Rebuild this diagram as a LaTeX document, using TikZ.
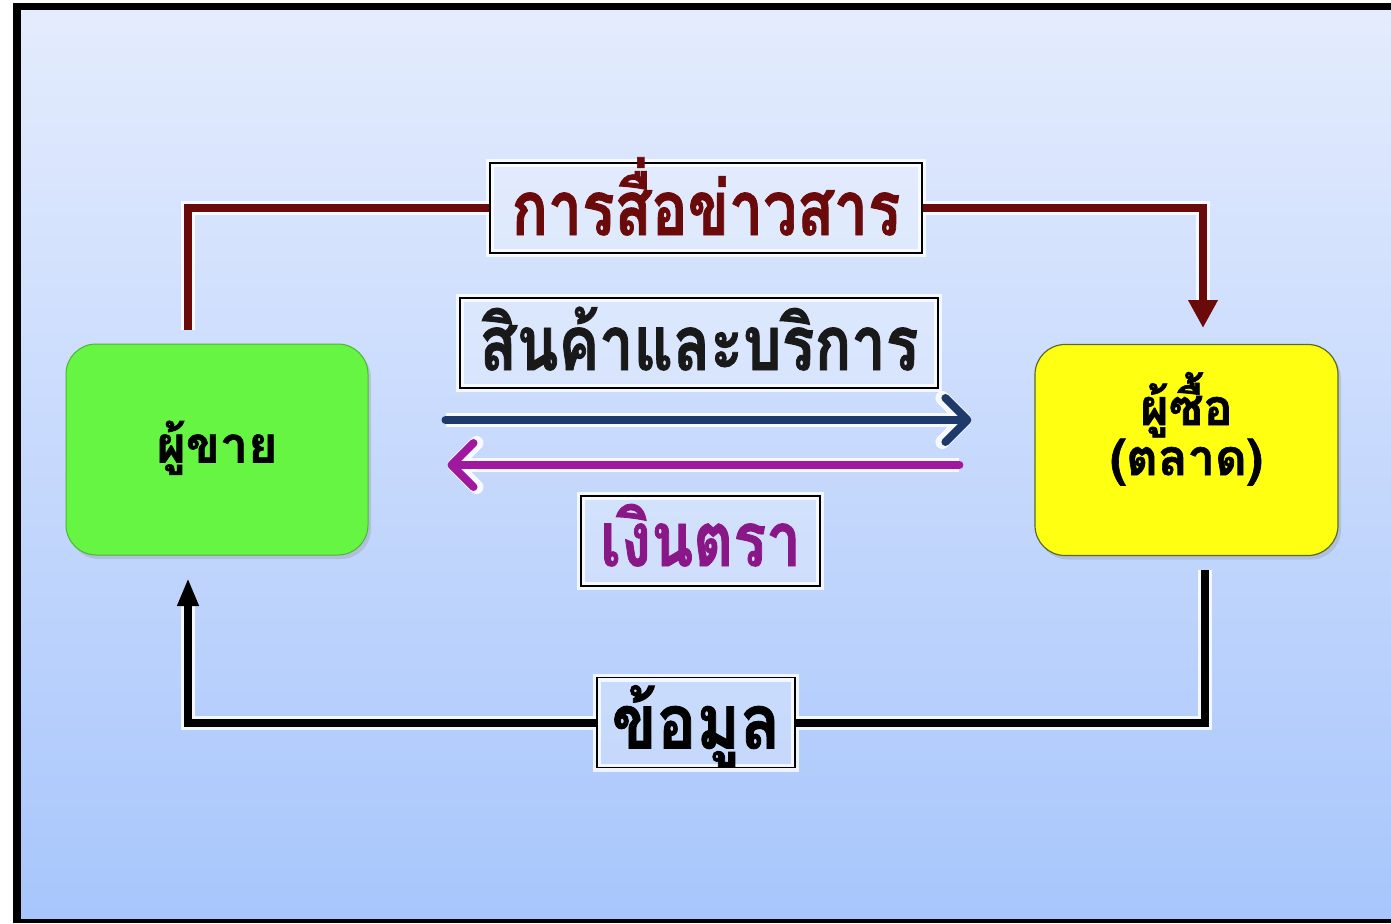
\documentclass[tikz,border=0pt]{standalone}
\usepackage{fontspec}
\usepackage{graphicx}
\newfontfamily\thaifont[Script=Thai,BoldFeatures={FakeBold=1.2}]{Loma}
\usetikzlibrary{arrows.meta,shadows}
\definecolor{bgtop}{HTML}{E4ECFD}
\definecolor{bgbot}{HTML}{A8C6FC}
\definecolor{sellergreen}{HTML}{66F542}
\definecolor{sellerline}{HTML}{4DB535}
\definecolor{buyeryellow}{HTML}{FFFF12}
\definecolor{buyerline}{HTML}{5A6A2A}
\definecolor{commred}{HTML}{6B0A0A}
\definecolor{goodsblue}{HTML}{1D3A6B}
\definecolor{moneypurple}{HTML}{A0189E}
\definecolor{moneytext}{HTML}{8A1787}
% #1 baseline offset, #2 horizontal scale, #3 vertical scale, #4 text
\newcommand{\placetxt}[4]{\makebox[0pt]{\raisebox{#1}[0pt][0pt]{\scalebox{#2}[#3]{#4}}}}
\begin{document}
\begin{tikzpicture}[x=1pt,y=-1pt,
  party/.style={rounded corners=30pt, minimum width=302pt, minimum height=211pt,
    inner sep=0pt, font=\thaifont\bfseries\fontsize{40}{50}\selectfont,
    drop shadow={opacity=0.25, shadow xshift=3pt, shadow yshift=-4pt}},
  lbl/.style={draw=black, line width=1.5pt, fill=white, fill opacity=0.25, text opacity=1,
    minimum height=90pt, inner sep=0pt,
    preaction={draw=white, line width=8pt, draw opacity=0.8},
    font=\thaifont\bfseries\fontsize{56}{60}\selectfont},
  flow/.style={line width=8pt, line cap=butt,
    preaction={draw=white, line width=14pt, draw opacity=0.85}},
  barb/.style={flow, line cap=round, -{Straight Barb[length=22pt, width=44pt, round]}}
]
\useasboundingbox (0,0) rectangle (1391,923);
\fill[white] (0,0) rectangle (1391,923);
\fill[black] (13,3) rectangle (1391,923);
\shade[top color=bgtop, bottom color=bgbot] (21,11) rectangle (1391,918);

% parties
\node[party, fill=sellergreen, draw=sellerline, line width=1pt] (seller) at (217,449.5)
  {\placetxt{-13pt}{1.25}{1.25}{ผู้ขาย}};
\node[party, fill=buyeryellow, draw=buyerline, line width=1.2pt, minimum width=303pt] (buyer) at (1186.5,450)
  {\placetxt{25pt}{1.22}{1.25}{ผู้ซื้อ}\placetxt{-25pt}{1.22}{1.25}{(ตลาด)}};

% labels
\node[lbl, minimum width=432pt, text=commred] (comm) at (706,208) {\placetxt{-27pt}{1.08}{1.35}{การสื่อข่าวสาร}};
\node[lbl, minimum width=478pt, text=black!90] (goods) at (699,343) {\placetxt{-27pt}{1.09}{1.35}{สินค้าและบริการ}};
\node[lbl, minimum width=239pt, text=moneytext] (money) at (700.5,541) {\placetxt{-25pt}{1.1}{1.35}{เงินตรา}};
\node[lbl, minimum width=198pt, text=black] (info) at (696,722.5) {\placetxt{-26pt}{1.18}{1.35}{ข้อมูล}};

% free ends
\coordinate (s1) at (188,330);
\coordinate (b1) at (1203,328);
\coordinate (b2) at (1205,570);
\coordinate (s2) at (188,578);

% communication loop (top)
\draw[flow, draw=commred] (s1) |- (comm.west);
\draw[flow, draw=commred, -{Triangle[length=28pt, width=28pt]}] (comm.east) -| (b1);

% goods and money
\draw[barb, draw=goodsblue] ([xshift=77pt, yshift=29.5pt]seller.east) -- ([xshift=-63pt, yshift=30pt]buyer.west);
\draw[barb, draw=moneypurple] ([xshift=-75pt, yshift=-15pt]buyer.west) -- ([xshift=79pt, yshift=-15.5pt]seller.east);

% information loop (bottom)
\draw[flow, draw=black] (b2) |- (info.east);
\draw[flow, draw=black, -{Triangle[length=28pt, width=20pt]}] (info.west) -| (s2);
\end{tikzpicture}
\end{document}
